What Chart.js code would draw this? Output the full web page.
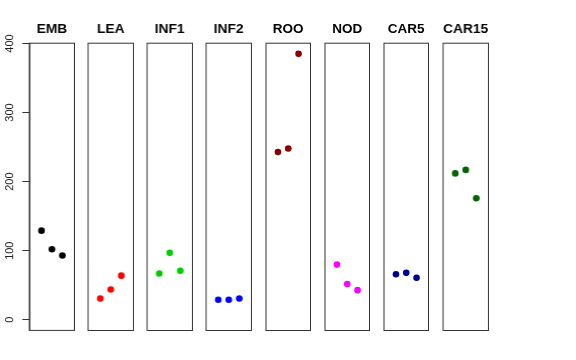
<!DOCTYPE html>
<html>
<head>
<meta charset="utf-8">
<script src="https://cdn.jsdelivr.net/npm/chart.js@4"></script>
<style>
  body { margin: 0; background: #fff; }
  #wrap { position: relative; width: 576px; height: 360px; }
  .panel { position: absolute; top: 0; height: 340px; }
</style>
</head>
<body>
<div id="wrap"></div>
<script>
// tissue groups, one panel each
const groups = ["EMB", "LEA", "INF1", "INF2", "ROO", "NOD", "CAR5", "CAR15"];
const xPos = [1, 2, 3];
const yTicks = [0, 100, 200, 300, 400];

const embValues = [129, 102, 93];
const leaValues = [31, 44, 64];
const inf1Values = [67, 97, 71];
const inf2Values = [29, 29, 31];
const rooValues = [243, 248, 385];
const nodValues = [80, 52, 43];
const car5Values = [66, 68, 61];
const car15Values = [212, 217, 176];

const groupValues = [embValues, leaValues, inf1Values, inf2Values, rooValues, nodValues, car5Values, car15Values];
const groupColors = ["#000000", "#ff0000", "#00cd00", "#0000ff", "#8b0000", "#ff00ff", "#00008b", "#006400"];

const PANEL_LEFT0 = 29;
const PANEL_STEP = 59.15;
const PANEL_WIDTH = 44.5;
const SIDE = 5;

// frame around each plot region
const boxPlugin = {
  id: "box",
  afterDraw(chart) {
    const a = chart.chartArea;
    const ctx = chart.ctx;
    ctx.save();
    ctx.strokeStyle = "#333";
    ctx.lineWidth = 1;
    ctx.strokeRect(a.left, a.top, a.right - a.left, a.bottom - a.top);
    ctx.restore();
  }
};

const wrap = document.getElementById("wrap");

groups.forEach((name, i) => {
  const first = i === 0;
  const left = PANEL_LEFT0 + i * PANEL_STEP;
  const div = document.createElement("div");
  div.className = "panel";
  if (first) {
    div.style.left = "0px";
    div.style.width = (left + PANEL_WIDTH + SIDE) + "px";
  } else {
    div.style.left = (left - SIDE) + "px";
    div.style.width = (PANEL_WIDTH + 2 * SIDE) + "px";
  }
  const cv = document.createElement("canvas");
  div.appendChild(cv);
  wrap.appendChild(div);

  const points = xPos.map((x, k) => ({ x: x, y: groupValues[i][k] }));

  new Chart(cv, {
    type: "scatter",
    data: {
      datasets: [
        {
          label: name,
          data: points,
          backgroundColor: groupColors[i],
          borderColor: groupColors[i],
          pointRadius: 3.3,
          pointHoverRadius: 3.3,
          borderWidth: 0,
        },
      ],
    },
    options: {
      responsive: true,
      maintainAspectRatio: false,
      animation: false,
      events: [],
      layout: {
        padding: { left: first ? 0 : SIDE, right: SIDE, top: 0, bottom: 9.5 },
      },
      plugins: {
        legend: { display: false },
        tooltip: { enabled: false },
        title: {
          display: true,
          text: name,
          fullSize: false,
          color: "#000",
          font: { family: "Liberation Sans, Arial, sans-serif", size: 13.5, weight: "bold" },
          padding: { top: 21, bottom: 6 },
        },
      },
      scales: {
        x: {
          type: "linear",
          min: -0.16,
          max: 4.16,
          display: false,
        },
        y: {
          type: "linear",
          min: -15.4,
          max: 400.4,
          display: first,
          afterBuildTicks: (scale) => {
            scale.ticks = yTicks.map((v) => ({ value: v }));
          },
          afterFit: (scale) => {
            scale.width = first ? PANEL_LEFT0 : 0;
          },
          grid: {
            drawOnChartArea: false,
            tickLength: 7,
            color: "#333",
          },
          border: { display: true, color: "#333" },
          ticks: {
            autoSkip: false,
            minRotation: 90,
            maxRotation: 90,
            crossAlign: "center",
            padding: 3,
            color: "#222",
            font: { family: "Liberation Sans, Arial, sans-serif", size: 11 },
          },
        },
      },
    },
    plugins: [boxPlugin],
  });
});
</script>
</body>
</html>
